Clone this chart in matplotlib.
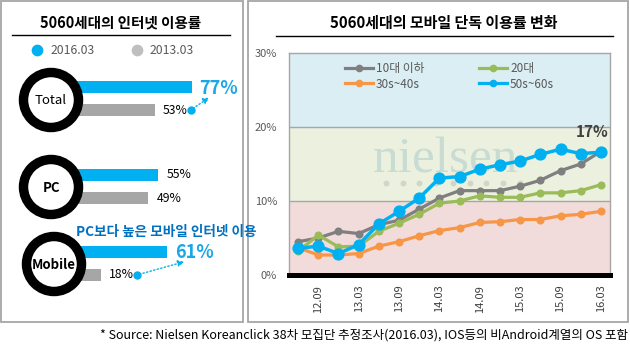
import numpy as np
import matplotlib
matplotlib.use('Agg')
import matplotlib.pyplot as plt
from matplotlib.patches import Circle, Rectangle
from matplotlib.lines import Line2D

plt.rcParams['font.family'] = ['Noto Sans CJK KR', 'DejaVu Sans']

# left panel: internet usage of the 5060 generation (%)
categories = ['Total', 'PC', 'Mobile']
usage_2016 = [77, 55, 61]
usage_2013 = [53, 49, 18]

# right panel: mobile-only usage by age group (%)
quarters = ['12.06', '12.09', '12.12', '13.03', '13.06', '13.09', '13.12', '14.03',
            '14.06', '14.09', '14.12', '15.03', '15.06', '15.09', '15.12', '16.03']
teens = [4.5, 5.0, 5.9, 5.6, 6.8, 7.4, 8.9, 10.4, 11.4, 11.4, 11.4, 12.0, 12.8, 14.1, 15.0, 16.7]
twenties = [3.2, 5.4, 3.8, 3.9, 5.9, 7.0, 8.2, 9.7, 10.0, 10.7, 10.5, 10.5, 11.1, 11.1, 11.4, 12.2]
thirties_forties = [3.7, 2.7, 2.7, 2.9, 3.9, 4.5, 5.3, 6.0, 6.4, 7.1, 7.2, 7.5, 7.5, 8.0, 8.2, 8.6]
fifties_sixties = [3.6, 3.9, 2.9, 4.1, 6.9, 8.6, 10.4, 13.1, 13.3, 14.3, 14.9, 15.4, 16.3, 17.0, 16.4, 16.6]
series_names = ['10대 이하', '20대', '30s~40s', '50s~60s']

BLUE = '#00b0f0'
GRAY_BAR = '#a6a6a6'
FRAME = '#a6a6a6'
TXT = '#595959'

fig = plt.figure(figsize=(6.3, 3.6), dpi=100)

# ---- right chart ----
ax = fig.add_axes([289 / 630, 85 / 360, 321 / 630, 222 / 360])
x = np.arange(len(quarters))
ax.set_xlim(-0.45, 15.45)
ax.set_ylim(0, 30)
ax.axhspan(0, 10, color='#f2dcdb', zorder=0)
ax.axhspan(10, 20, color='#ebf1de', zorder=0)
ax.axhspan(20, 30, color='#dbeef4', zorder=0)
for yv in (10, 20):
    ax.axhline(yv, color=FRAME, lw=1, zorder=1)

ax.text(7.3, 13.8, 'nielsen', family='Liberation Serif', fontsize=37,
        color='#c8dcd4', ha='center', va='baseline', zorder=1)
for i in range(9):
    ax.plot(4.35 + i * 0.83, 12.4, 'o', ms=3.2, color='#d0d6c8', zorder=1)

colors = ['#7f7f7f', '#9bbb59', '#f79646', BLUE]
data = [teens, twenties, thirties_forties, fifties_sixties]
for vals, c in zip(data[:3], colors[:3]):
    ax.plot(x, vals, color=c, lw=2.3, marker='o', ms=4.8, zorder=3)
ax.plot(x, fifties_sixties, color=BLUE, lw=2.5, marker='o', ms=7.8, zorder=4)

ax.annotate('17%', (x[-1], fifties_sixties[-1]), xytext=(-6.5, 14.5),
            textcoords='offset points', ha='center', va='center',
            fontsize=11, fontweight='bold', color='#404040')

# legend filled row by row: columns are (10대, 30s~40s) and (20대, 50s~60s)
order = [0, 2, 1, 3]
handles = [Line2D([], [], color=colors[i], lw=2.3, marker='o', ms=4.5) for i in order]
ax.legend(handles, [series_names[i] for i in order], loc='upper left',
          bbox_to_anchor=(0.155, 0.985), ncol=2, frameon=False, fontsize=8.5,
          labelcolor=TXT, handlelength=2.4, handletextpad=0.25, columnspacing=4.6,
          labelspacing=0.2, borderpad=0)

ax.set_xticks(x[1::2])
ax.set_xticklabels(quarters[1::2], rotation=90, fontsize=8, color='#404040')
ax.set_yticks([0, 10, 20, 30])
ax.set_yticklabels(['0%', '10%', '20%', '30%'], fontsize=8, color=TXT)
ax.tick_params(axis='x', length=0, pad=7)
ax.tick_params(axis='y', length=0, pad=8.5)
for s in ('left', 'top', 'right'):
    ax.spines[s].set_color(FRAME)
    ax.spines[s].set_linewidth(1)
ax.spines['bottom'].set_color('black')
ax.spines['bottom'].set_linewidth(3.6)
ax.spines['bottom'].set_zorder(5)

# ---- overlay in pixel coordinates ----
ov = fig.add_axes([0, 0, 1, 1], zorder=10)
ov.set_xlim(0, 630)
ov.set_ylim(360, 0)
ov.axis('off')
ov.patch.set_alpha(0)

ov.add_patch(Rectangle((1, 1), 242, 321, fill=False, edgecolor=FRAME, lw=1.3))
ov.add_patch(Rectangle((248, 1), 380, 321, fill=False, edgecolor=FRAME, lw=1.3))

ov.text(121, 23, '5060세대의 인터넷 이용률', ha='center', va='center',
        fontsize=10.5, fontweight='bold')
ov.plot([12, 230], [35, 35], color='black', lw=1)
ov.text(444, 23, '5060세대의 모바일 단독 이용률 변화', ha='center', va='center',
        fontsize=10.8, fontweight='bold')
ov.plot([276, 613], [36, 36], color='black', lw=1)

ov.scatter([37], [50], s=55, color=BLUE)
ov.text(51, 50, '2016.03', va='center', fontsize=8.8, color=TXT)
ov.scatter([137], [50], s=55, color='#bfbfbf')
ov.text(150, 50, '2013.03', va='center', fontsize=8.8, color=TXT)

centers = [(51, 100), (51, 187), (54, 264)]
blue_y = [87, 174.5, 252]
gray_y = [110, 198, 275]
x0, scale = 73, 1.54
ov.barh(blue_y, [v * scale for v in usage_2016], left=x0, height=12, color=BLUE, zorder=2)
ov.barh(gray_y, [v * scale for v in usage_2013], left=x0, height=12, color=GRAY_BAR, zorder=2)

for (cx, cy), name in zip(centers, categories):
    ov.add_patch(Circle((cx, cy), 27.5, facecolor='white', edgecolor='black',
                        lw=6.8, zorder=5))
    ov.text(cx, cy + 1, name, ha='center', va='center', fontsize=9.5, zorder=6,
            fontweight='normal' if name == 'Total' else 'bold')

for i, (v16, v13) in enumerate(zip(usage_2016, usage_2013)):
    end16 = x0 + v16 * scale
    end13 = x0 + v13 * scale
    ov.text(end13 + 8, gray_y[i], f'{v13}%', va='center', fontsize=8.8)
    if categories[i] == 'PC':
        ov.text(end16 + 9, blue_y[i], f'{v16}%', va='center', fontsize=8.8)
    else:
        ov.text(end16 + 8, blue_y[i] + 1, f'{v16}%', va='center', fontsize=13,
                fontweight='bold', color='#1aa7e6')
        dot = (end13 + 36, gray_y[i])
        tip = (end16 + 20, blue_y[i] + 9)
        ov.plot(*dot, 'o', ms=5, color=BLUE)
        ov.annotate('', xy=tip, xytext=dot,
                    arrowprops=dict(arrowstyle='-|>', linestyle=':', color=BLUE,
                                    lw=1, mutation_scale=9))

ov.text(76, 232, 'PC보다 높은 모바일 인터넷 이용', va='center', fontsize=9.8,
        color='#0070c0', fontweight='bold')

ov.text(628, 335, '* Source: Nielsen Koreanclick 38차 모집단 추정조사(2016.03), '
        'IOS등의 비Android계열의 OS 포함', ha='right', va='center', fontsize=9)

fig.savefig('out.png', dpi=100, facecolor='white')
